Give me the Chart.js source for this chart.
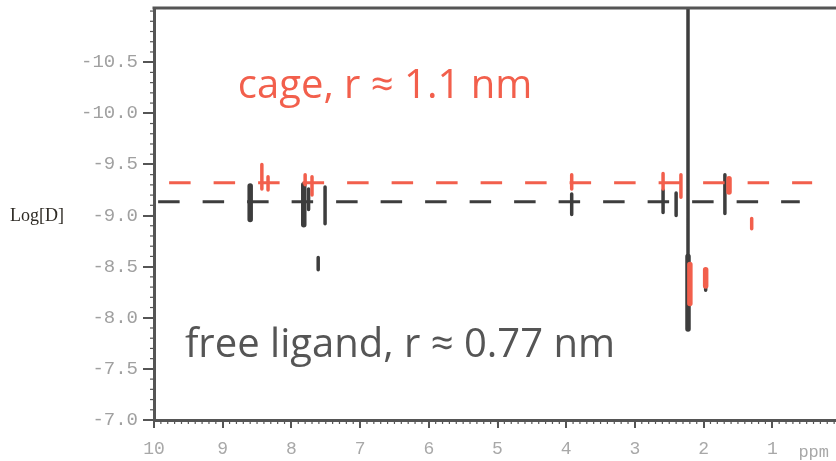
<!DOCTYPE html>
<html>
<head>
<meta charset="utf-8">
<script src="https://cdn.jsdelivr.net/npm/chart.js@4/dist/chart.umd.min.js"></script>
<style>
html,body{margin:0;padding:0;background:#fff;overflow:hidden;}
#wrap{width:880px;height:461px;}
</style>
</head>
<body>
<div id="wrap"><canvas id="c" width="880" height="461"></canvas></div>
<script>
// ---- data (ppm on x, Log[D] on y) ----
const xTickValues = [10, 9, 8, 7, 6, 5, 4, 3, 2, 1];
const yTickValues = [-10.5, -10.0, -9.5, -9.0, -8.5, -8.0, -7.5, -7.0];
const xUnit = 'ppm';
const yTitle = 'Log[D]';

const cageLabel = 'cage, r \u2248 1.1 nm';
const ligandLabel = 'free ligand, r \u2248 0.77 nm';

const cageLogD = -9.32;
const cageLineFrom = 9.78, cageLineTo = 0.42;
const ligandLogD = -9.135;
const ligandLineFrom = 9.94, ligandLineTo = 0.60;

// free ligand spots: broad ones
const ligandBroadPpm    = [8.60, 7.82, 2.227];
const ligandBroadTop    = [-9.29, -9.30, -8.60];
const ligandBroadBottom = [-8.96, -8.91, -7.89];
// free ligand spots: narrow ones
const ligandNarrowPpm    = [7.75, 7.51, 7.61, 3.92, 2.59, 2.40, 1.69, 1.97, 2.227];
const ligandNarrowTop    = [-9.26, -9.28, -8.59, -9.21, -9.25, -9.22, -9.40, -8.33, -11.2];
const ligandNarrowBottom = [-9.06, -8.92, -8.47, -9.01, -9.03, -9.00, -9.02, -8.27, -8.60];

// cage spots: broad ones
const cageBroadPpm    = [2.20, 1.97, 1.63];
const cageBroadTop    = [-8.52, -8.47, -9.36];
const cageBroadBottom = [-8.14, -8.31, -9.23];
// cage spots: narrow ones
const cageNarrowPpm    = [8.43, 8.34, 7.80, 7.70, 3.92, 2.59, 2.33, 1.30];
const cageNarrowTop    = [-9.50, -9.38, -9.40, -9.38, -9.40, -9.41, -9.40, -8.97];
const cageNarrowBottom = [-9.26, -9.25, -9.30, -9.20, -9.26, -9.26, -9.18, -8.87];

// ---- helpers ----
function segments(ppm, top, bottom) {
  const pts = [];
  ppm.forEach((p, i) => {
    pts.push({x: p, y: top[i]});
    pts.push({x: p, y: bottom[i]});
    pts.push({x: p, y: null});
  });
  return pts;
}

const RED = '#f25f4c';
const DARK = '#3d3d3d';
const AXIS = '#555555';

const decor = {
  id: 'decor',
  afterDraw(chart) {
    const {ctx, chartArea, scales} = chart;
    const xs = scales.x, ys = scales.y;
    ctx.save();
    // top frame line
    ctx.strokeStyle = AXIS;
    ctx.lineWidth = 3;
    ctx.beginPath();
    ctx.moveTo(chartArea.left - 1.5, chartArea.top);
    ctx.lineTo(chart.width, chartArea.top);
    ctx.stroke();
    // minor ticks
    ctx.lineWidth = 1.2;
    ctx.strokeStyle = AXIS;
    for (let i = 0; i <= 100; i++) {
      const v = i / 10;
      const px = xs.getPixelForValue(v);
      if (px > chart.width) continue;
      ctx.beginPath();
      ctx.moveTo(px, chartArea.bottom);
      ctx.lineTo(px, chartArea.bottom + 4);
      ctx.stroke();
    }
    for (let i = -110; i <= -70; i++) {
      const v = i / 10;
      const py = ys.getPixelForValue(v);
      if (py < chartArea.top) continue;
      ctx.beginPath();
      ctx.moveTo(chartArea.left, py);
      ctx.lineTo(chartArea.left - 4, py);
      ctx.stroke();
    }
    // unit label
    ctx.fillStyle = '#a8a8a8';
    ctx.font = '17px "Liberation Mono", monospace';
    ctx.textAlign = 'left';
    ctx.textBaseline = 'middle';
    ctx.fillText(xUnit, xs.getPixelForValue(0.62), 452);
    // y title
    ctx.fillStyle = '#2e2a24';
    ctx.font = '18px "Liberation Serif", serif';
    ctx.textAlign = 'left';
    ctx.textBaseline = 'middle';
    ctx.fillText(yTitle, 10, ys.getPixelForValue(-9.0) + 1);
    // annotations
    ctx.font = '40px "Open Sans", sans-serif';
    ctx.textBaseline = 'alphabetic';
    ctx.fillStyle = RED;
    ctx.fillText(cageLabel, xs.getPixelForValue(8.78), ys.getPixelForValue(-10.15));
    ctx.fillStyle = '#555555';
    ctx.fillText(ligandLabel, xs.getPixelForValue(9.55), ys.getPixelForValue(-7.62));
    ctx.restore();
  }
};

new Chart(document.getElementById('c'), {
  type: 'scatter',
  data: {
    datasets: [
      {data: segments(cageBroadPpm, cageBroadTop, cageBroadBottom), showLine: true, spanGaps: false,
       borderColor: RED, borderWidth: 5.5, borderCapStyle: 'round', pointRadius: 0, order: 0},
      {data: segments(cageNarrowPpm, cageNarrowTop, cageNarrowBottom), showLine: true, spanGaps: false,
       borderColor: RED, borderWidth: 3.5, borderCapStyle: 'round', pointRadius: 0, order: 1},
      {data: [{x: cageLineFrom, y: cageLogD}, {x: cageLineTo, y: cageLogD}], showLine: true,
       borderColor: RED, borderWidth: 3, borderDash: [21.5, 23], borderCapStyle: 'butt', pointRadius: 0, order: 2},
      {data: segments(ligandBroadPpm, ligandBroadTop, ligandBroadBottom), showLine: true, spanGaps: false,
       borderColor: DARK, borderWidth: 5.5, borderCapStyle: 'round', pointRadius: 0, order: 3},
      {data: segments(ligandNarrowPpm, ligandNarrowTop, ligandNarrowBottom), showLine: true, spanGaps: false,
       borderColor: DARK, borderWidth: 3.5, borderCapStyle: 'round', pointRadius: 0, order: 4},
      {data: [{x: ligandLineFrom, y: ligandLogD}, {x: ligandLineTo, y: ligandLogD}], showLine: true,
       borderColor: DARK, borderWidth: 3, borderDash: [21.5, 23], borderCapStyle: 'butt', pointRadius: 0, order: 5}
    ]
  },
  options: {
    responsive: false,
    animation: false,
    events: [],
    layout: {padding: {left: 0, right: 39, top: 8, bottom: 0}},
    plugins: {legend: {display: false}, tooltip: {enabled: false}},
    scales: {
      x: {
        type: 'linear', min: 0, max: 10, reverse: true,
        afterBuildTicks: s => { s.ticks = xTickValues.map(v => ({value: v})); },
        afterFit: s => { s.height = 41; s.paddingLeft = 0; s.paddingRight = 0; },
        grid: {drawOnChartArea: false, drawTicks: true, tickLength: 8, color: AXIS, lineWidth: 2},
        border: {display: true, color: AXIS, width: 3},
        ticks: {color: '#a8a8a8', font: {family: 'Liberation Mono', size: 18}, padding: 10, maxRotation: 0,
                callback: v => String(v)}
      },
      y: {
        type: 'linear', min: -11.03, max: -7.0, reverse: true,
        afterBuildTicks: s => { s.ticks = yTickValues.map(v => ({value: v})); },
        afterFit: s => { s.width = 154; s.paddingTop = 0; s.paddingBottom = 0; },
        grid: {drawOnChartArea: false, drawTicks: true, tickLength: 11, color: AXIS, lineWidth: 2},
        border: {display: true, color: AXIS, width: 3},
        ticks: {color: '#a0a0a0', font: {family: 'Liberation Mono', size: 19}, padding: 5,
                callback: v => Number(v).toFixed(1)}
      }
    }
  },
  plugins: [decor]
});
</script>
</body>
</html>
